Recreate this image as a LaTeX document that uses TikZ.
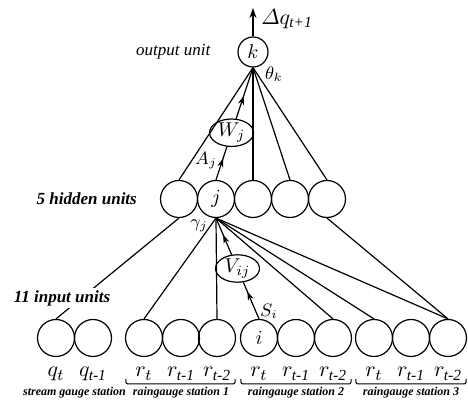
\documentclass[tikz,border=0pt]{standalone}
\usepackage{amsmath}
\usepackage{fontspec}
\setmainfont{Liberation Serif}
\usetikzlibrary{arrows.meta,shapes.geometric,decorations.markings,calc,positioning}

\tikzset{
    unit/.style={draw, circle, minimum size=18.5pt, inner sep=0pt, line width=0.6pt, font=\fontsize{10}{11}\selectfont},
    outunit/.style={unit, minimum size=15pt},
    weight/.style={draw, ellipse, inner sep=0pt, line width=0.6pt, font=\fontsize{10}{11}\selectfont},
    link/.style={line width=0.6pt},
    caption/.style={font=\fontsize{8.5}{9}\selectfont\bfseries\itshape},
    station/.style={font=\fontsize{6}{7}\selectfont\bfseries\itshape},
    sym/.style={font=\fontsize{11}{12}\selectfont, inner sep=0pt},
    small sym/.style={font=\fontsize{9}{10}\selectfont, inner sep=0pt},
    midarrow/.style={postaction={decorate}, decoration={markings, mark=at position #1 with {\arrow{Stealth[length=4.5pt,width=3pt]}}}}
}

\begin{document}
\begin{tikzpicture}[x=0.5pt, y=-0.5pt]
    \useasboundingbox (0,0) rectangle (468,405);

        \node[name=k, outunit] at (253,52) {$k$};
        \foreach \n/\x/\t in {1/179/,2/216/$j$,3/253/,4/290/,5/327/}
            {
                \node[name=h\n, unit] at (\x,199) {\t};
            }
        \foreach \n/\x/\t in {1/56/,2/93/,3/144/,4/181/,5/217/,6/259/$i$,7/296/,8/333/,9/374/,10/411/,11/448/}
            {
                \node[name=in\n, unit] at (\x,338) {\t};
            }

        \foreach \n in {1,3,4,5}
            {
                \draw[link] (k.south) -- (h\n.north);
            }
        \node[name=wj, weight, minimum width=22pt, minimum height=10pt] at ($(h2.north)!0.42!(k.south)$) {$W_j$};
        \draw[link, midarrow=0.65] (h2.north) -- (wj);
        \draw[link, midarrow=0.45] (wj) -- (k.south);
        \coordinate (top) at (253,8);
        \draw[link, -{Stealth[length=5pt,width=3.5pt]}] (k.north) -- (top);

        \draw[link] (h1.south) -- (in1.north);
        \foreach \n in {3,5,8,9,11}
            {
                \draw[link] (h2.south) -- (in\n.north);
            }
        \draw[link] (h5.south) -- (in11.north);
        \node[name=vij, weight, minimum width=22pt, minimum height=13pt] at ($(h2.south)!0.5!(in6.north)$) {$V_{ij}$};
        \draw[link, midarrow=0.75] (in6.north) -- (vij);
        \draw[link, midarrow=0.55] (vij) -- (h2.south);

        \node[name=dq, sym] at (287,19) {$\varDelta q_{\textit{t+1}}$};
        \node[name=thk, small sym] at (274,74) {$\theta_k$};
        \node[name=aj, small sym] at (206,161) {$A_j$};
        \node[name=gj, small sym] at (199,226) {$\gamma_j$};
        \node[name=si, small sym] at (269,311) {$S_i$};

        \node[name=outcap, caption, font=\fontsize{8.5}{9}\selectfont\itshape, left=10pt of k] {output unit};
        \node[name=hidcap, caption, left=8pt of h1] {5 hidden units};
        \node[name=incap, caption, fill=white, inner sep=1pt] at (62,298) {11 input units};

        \node[name=q1, sym, anchor=base] at (56,377) {$q_t$};
        \node[name=q2, sym, anchor=base] at (93,377) {$q_{\textit{t-1}}$};
        \foreach \a/\b/\c/\s in {3/4/5/1,6/7/8/2,9/10/11/3}
            {
                \node[name=r\a, sym, anchor=base] at ($(in\a)+(0,39)$) {$r_t$};
                \node[name=r\b, sym, anchor=base] at ($(in\b)+(0,39)$) {$r_{\textit{t-1}}$};
                \node[name=r\c, sym, anchor=base] at ($(in\c)+(0,39)$) {$r_{\textit{t-2}}$};
                \draw[line width=0.5pt, rounded corners=1pt] ($(in\a.west)+(1,41)$) -- ($(in\a.west)+(1,46)$) -- ($(in\c.east)+(-1,46)$) -- ($(in\c.east)+(-1,41)$);
                \node[name=st\s, station] at ($(in\b)+(0,55)$) {raingauge station \s};
            }
        \node[name=st0, station] at ($(in1)!0.5!(in2)+(0,55)$) {stream gauge station};
    \end{tikzpicture}
\end{document}
